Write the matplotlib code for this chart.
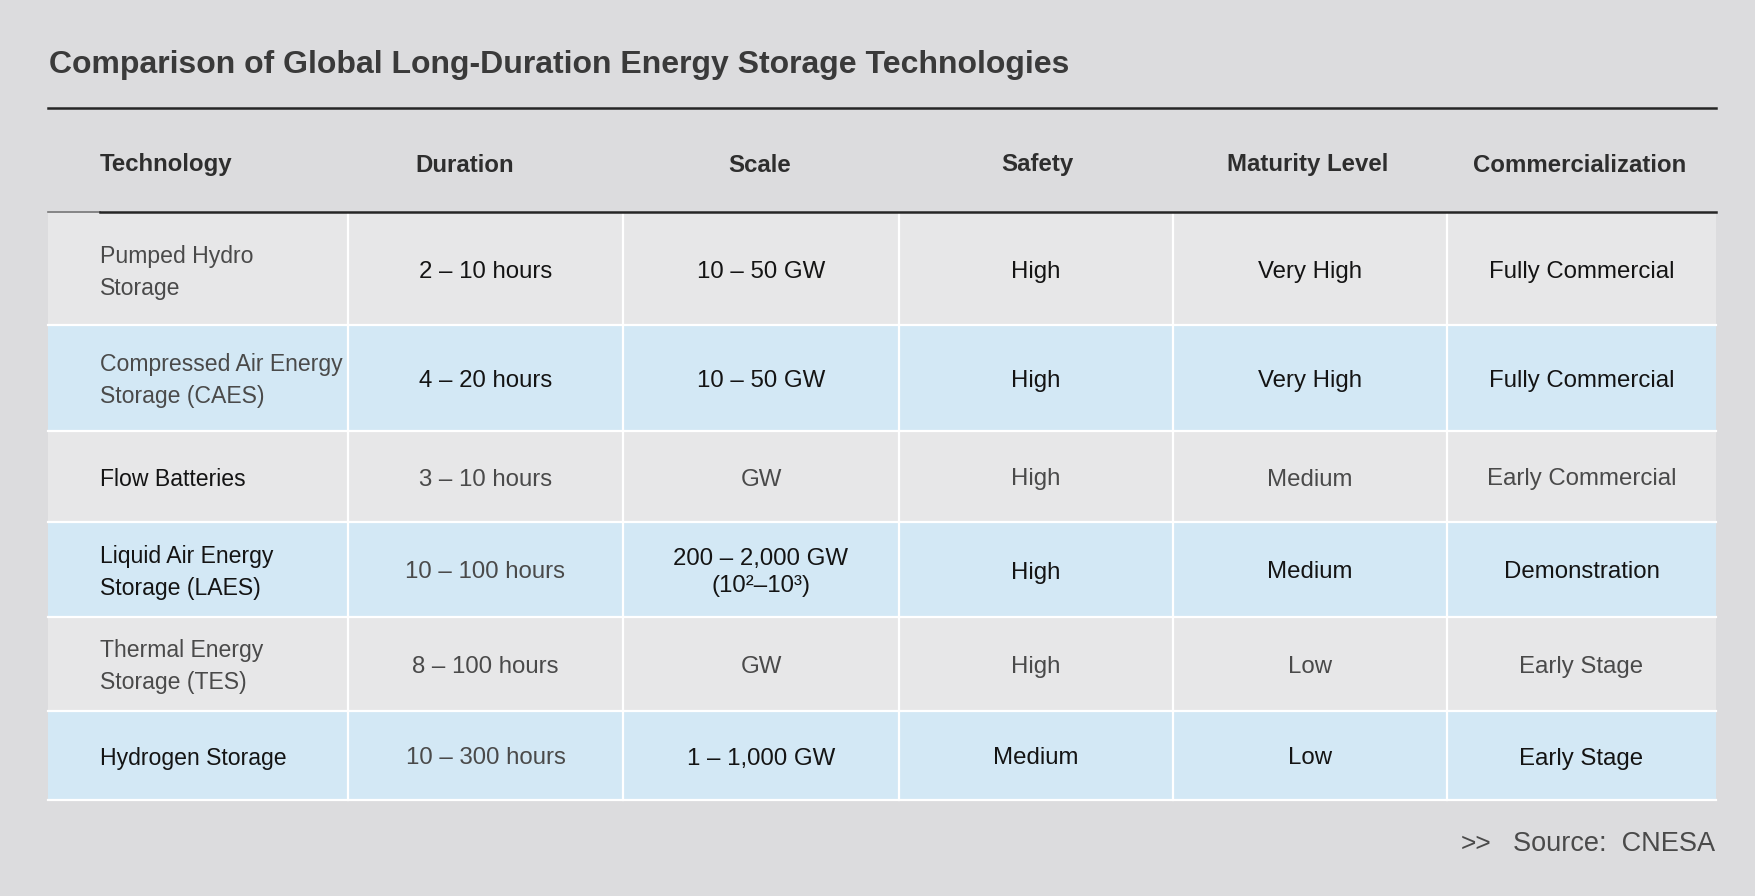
import matplotlib.pyplot as plt
from matplotlib.patches import Rectangle

plt.rcParams['font.family'] = ['Liberation Sans', 'DejaVu Sans']

# table content
title = "Comparison of Global Long-Duration Energy Storage Technologies"
headers = ["Technology", "Duration", "Scale", "Safety", "Maturity Level", "Commercialization"]
technology = ["Pumped Hydro\nStorage", "Compressed Air Energy\nStorage (CAES)", "Flow Batteries",
              "Liquid Air Energy\nStorage (LAES)", "Thermal Energy\nStorage (TES)", "Hydrogen Storage"]
duration = ["2 – 10 hours", "4 – 20 hours", "3 – 10 hours", "10 – 100 hours", "8 – 100 hours", "10 – 300 hours"]
scale = ["10 – 50 GW", "10 – 50 GW", "GW", "200 – 2,000 GW\n(10²–10³)", "GW", "1 – 1,000 GW"]
safety = ["High", "High", "High", "High", "High", "Medium"]
maturity = ["Very High", "Very High", "Medium", "Medium", "Low", "Low"]
commercial = ["Fully Commercial", "Fully Commercial", "Early Commercial", "Demonstration",
              "Early Stage", "Early Stage"]
source = "Source:  CNESA"

# which cells are printed in the lighter grey (1) instead of near-black (0)
muted = [[1, 0, 0, 0, 0, 0],
         [1, 0, 0, 0, 0, 0],
         [0, 1, 1, 1, 1, 1],
         [0, 1, 0, 0, 0, 0],
         [1, 1, 1, 1, 1, 1],
         [0, 1, 0, 0, 0, 0]]

columns = [technology, duration, scale, safety, maturity, commercial]

# layout in pixels
W, H = 1755, 896
col_edges = [48, 348, 623, 899, 1173, 1447, 1716]
row_edges = [213, 325, 431, 522, 617, 711, 800]
header_top, header_bottom = 108.5, 212.5
header_x = [100, 465, 760, 1037, 1308, 1580]

fig = plt.figure(figsize=(W / 100, H / 100), dpi=100, facecolor='#dcdcde')
ax = fig.add_axes([0, 0, 1, 1])
ax.set_xlim(0, W)
ax.set_ylim(H, 0)
ax.axis('off')

ax.text(49, 65, title, fontsize=23, fontweight='bold', color='#3a3a3a', ha='left', va='center')

# row bands
for i in range(len(technology)):
    fc = '#e7e7e8' if i % 2 == 0 else '#d3e8f5'
    ax.add_patch(Rectangle((col_edges[0], row_edges[i]), col_edges[-1] - col_edges[0],
                           row_edges[i + 1] - row_edges[i], facecolor=fc, edgecolor='none'))

# white grid
for x in col_edges[1:-1]:
    ax.plot([x, x], [row_edges[0], row_edges[-1]], color='white', lw=1.6)
for y in row_edges[1:]:
    ax.plot([col_edges[0], col_edges[-1]], [y, y], color='white', lw=1.6)

# header rules
ax.plot([col_edges[0], col_edges[-1]], [header_top, header_top], color='#262626', lw=1.8)
ax.plot([col_edges[0], 100], [header_bottom, header_bottom], color='#777777', lw=1.2)
ax.plot([100, col_edges[-1]], [header_bottom, header_bottom], color='#262626', lw=1.8)

for j, h in enumerate(headers):
    ax.text(header_x[j], 165, h, fontsize=17.3, fontweight='bold', color='#2e2e2e',
            ha='left' if j == 0 else 'center', va='center')

for i in range(len(technology)):
    yc = (row_edges[i] + row_edges[i + 1]) / 2 + 3
    for j, col in enumerate(columns):
        color = '#4a4a4a' if muted[i][j] else '#141414'
        if j == 0:
            ax.text(100, yc, col[i], fontsize=16.6, color=color, ha='left', va='center',
                    linespacing=1.5)
        else:
            xc = (col_edges[j] + col_edges[j + 1]) / 2
            ax.text(xc, yc, col[i], fontsize=17.3, color=color, ha='center', va='center',
                    linespacing=1.35)

ax.text(1492, 844, ">>", fontsize=19, color='#4a4a4a', ha='right', va='center')
ax.text(1715, 844, source, fontsize=19.5, color='#4a4a4a', ha='right', va='center')

fig.savefig('out.png', dpi=100, facecolor=fig.get_facecolor())
